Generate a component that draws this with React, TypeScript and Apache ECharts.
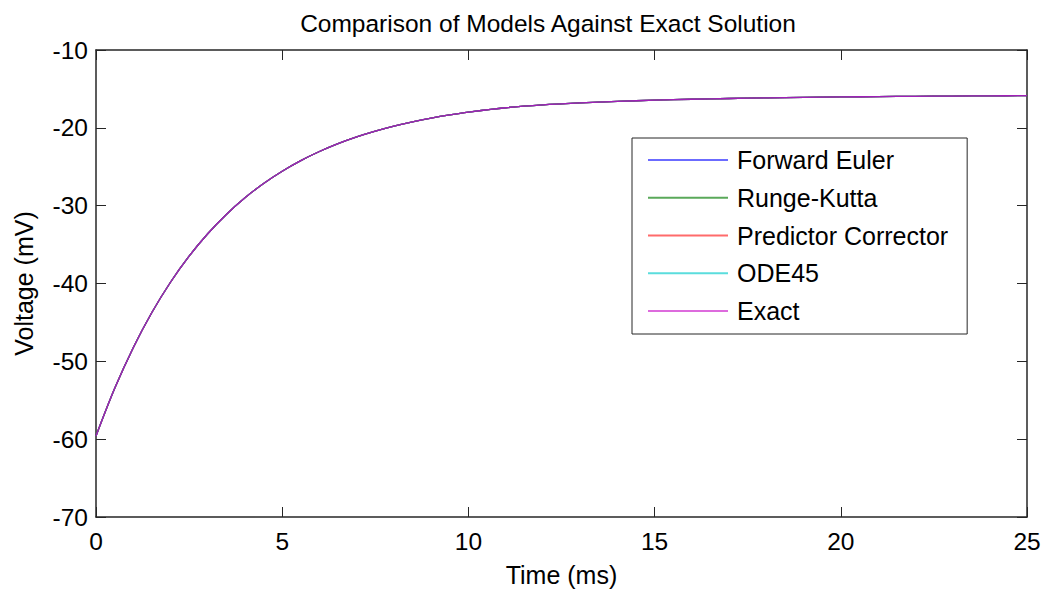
import React, { useEffect, useRef } from "react";
import * as echarts from "echarts";

const FONT = "'Liberation Sans', Arial, Helvetica, sans-serif";

const titleText = "Comparison of Models Against Exact Solution";
const xAxisTitle = "Time (ms)";
const yAxisTitle = "Voltage (mV)";

const modelNames = ["Forward Euler", "Runge-Kutta", "Predictor Corrector", "ODE45", "Exact"];
const lineColors = ["#0000ff", "#008000", "#ff0000", "#00bfbf", "#bf00bf"];
const legendColors = ["#6b6bff", "#5aa95a", "#ff6b6b", "#5adddd", "#dd6bdd"];

const timeMs = [0, 0.5, 1, 1.5, 2, 2.5, 3, 3.5, 4, 4.5, 5, 5.5, 6, 6.5, 7, 7.5, 8, 8.5, 9, 9.5, 10, 11, 12, 13, 14, 15, 16, 17, 18, 19, 20, 21, 22, 23, 24, 25];

const forwardEuler = [-59.6, -53.5, -48.25, -43.73, -39.84, -36.49, -33.61, -31.13, -28.99, -27.15, -25.57, -24.21, -23.04, -22.03, -21.16, -20.42, -19.77, -19.22, -18.74, -18.33, -17.98, -17.42, -17.05, -16.8, -16.6, -16.45, -16.33, -16.23, -16.15, -16.08, -16.03, -15.99, -15.95, -15.92, -15.89, -15.86];
const rungeKutta = [-59.6, -53.5, -48.25, -43.73, -39.84, -36.49, -33.61, -31.13, -28.99, -27.15, -25.57, -24.21, -23.04, -22.03, -21.16, -20.42, -19.77, -19.22, -18.74, -18.33, -17.98, -17.42, -17.05, -16.8, -16.6, -16.45, -16.33, -16.23, -16.15, -16.08, -16.03, -15.99, -15.95, -15.92, -15.89, -15.86];
const predictorCorrector = [-59.6, -53.5, -48.25, -43.73, -39.84, -36.49, -33.61, -31.13, -28.99, -27.15, -25.57, -24.21, -23.04, -22.03, -21.16, -20.42, -19.77, -19.22, -18.74, -18.33, -17.98, -17.42, -17.05, -16.8, -16.6, -16.45, -16.33, -16.23, -16.15, -16.08, -16.03, -15.99, -15.95, -15.92, -15.89, -15.86];
const ode45 = [-59.6, -53.5, -48.25, -43.73, -39.84, -36.49, -33.61, -31.13, -28.99, -27.15, -25.57, -24.21, -23.04, -22.03, -21.16, -20.42, -19.77, -19.22, -18.74, -18.33, -17.98, -17.42, -17.05, -16.8, -16.6, -16.45, -16.33, -16.23, -16.15, -16.08, -16.03, -15.99, -15.95, -15.92, -15.89, -15.86];
const exact = [-59.6, -53.5, -48.25, -43.73, -39.84, -36.49, -33.61, -31.13, -28.99, -27.15, -25.57, -24.21, -23.04, -22.03, -21.16, -20.42, -19.77, -19.22, -18.74, -18.33, -17.98, -17.42, -17.05, -16.8, -16.6, -16.45, -16.33, -16.23, -16.15, -16.08, -16.03, -15.99, -15.95, -15.92, -15.89, -15.86];

const modelValues = [forwardEuler, rungeKutta, predictorCorrector, ode45, exact];

const AXIS_COLOR = "#262626";

function buildOption(): echarts.EChartsCoreOption {
  const labelStyle = { fontSize: 24.5, color: "#000", fontFamily: FONT };
  const nameStyle = { fontSize: 25, color: "#000", fontFamily: FONT };

  const axisLine = { show: true, onZero: false, lineStyle: { color: AXIS_COLOR, width: 1.5 } };
  const axisTick = { show: true, inside: true, length: 10, lineStyle: { color: AXIS_COLOR, width: 1 } };

  const xBase = {
    type: "value" as const,
    min: 0,
    max: 25,
    interval: 5,
    gridIndex: 0,
    splitLine: { show: false },
    axisLine,
    axisTick,
  };
  const yBase = {
    type: "value" as const,
    min: -70,
    max: -10,
    interval: 10,
    gridIndex: 0,
    splitLine: { show: false },
    axisLine,
    axisTick,
  };

  return {
    animation: false,
    backgroundColor: "#ffffff",
    title: {
      text: titleText,
      left: 543,
      top: 6,
      textAlign: "center",
      textStyle: { fontSize: 24.5, fontWeight: "normal", color: "#000", fontFamily: FONT },
    },
    grid: { left: 96, right: 17, top: 50, bottom: 73, containLabel: false },
    xAxis: [
      {
        ...xBase,
        position: "bottom",
        axisLabel: { ...labelStyle, margin: 12 },
        name: xAxisTitle,
        nameLocation: "middle",
        nameGap: 45,
        nameTextStyle: nameStyle,
      },
      { ...xBase, position: "top", axisLabel: { show: false } },
    ],
    yAxis: [
      {
        ...yBase,
        position: "left",
        axisLabel: { ...labelStyle, margin: 8 },
        name: yAxisTitle,
        nameLocation: "middle",
        nameGap: 60,
        nameRotate: 90,
        nameTextStyle: nameStyle,
      },
      { ...yBase, position: "right", axisLabel: { show: false } },
    ],
    legend: {
      orient: "vertical",
      left: 632,
      top: 138,
      itemWidth: 80,
      itemHeight: 2,
      itemGap: 11.75,
      icon: "rect",
      padding: [9, 19, 10, 16],
      borderColor: AXIS_COLOR,
      borderWidth: 1,
      backgroundColor: "#ffffff",
      textStyle: { fontSize: 25, color: "#000", fontFamily: FONT, lineHeight: 26, padding: [0, 0, 0, 4] },
      data: modelNames.map((name, i) => ({
        name,
        itemStyle: { color: legendColors[i] },
      })),
    },
    series: modelNames.map((name, i) => ({
      name,
      type: "line",
      xAxisIndex: 0,
      yAxisIndex: 0,
      symbol: "none",
      smooth: 0.35,
      color: legendColors[i],
      lineStyle: { color: lineColors[i], width: 1.3, opacity: 0.8 },
      data: timeMs.map((t, j) => [t, modelValues[i][j]]),
    })),
  };
}

export default function App() {
  const ref = useRef<HTMLDivElement>(null);

  useEffect(() => {
    if (!ref.current) return;
    const chart = echarts.init(ref.current, undefined, { renderer: "svg" });
    chart.setOption(buildOption());
    return () => chart.dispose();
  }, []);

  return (
    <div
      ref={ref}
      style={{ position: "absolute", left: 0, top: 0, width: 1044, height: 592, background: "#fff" }}
    />
  );
}
